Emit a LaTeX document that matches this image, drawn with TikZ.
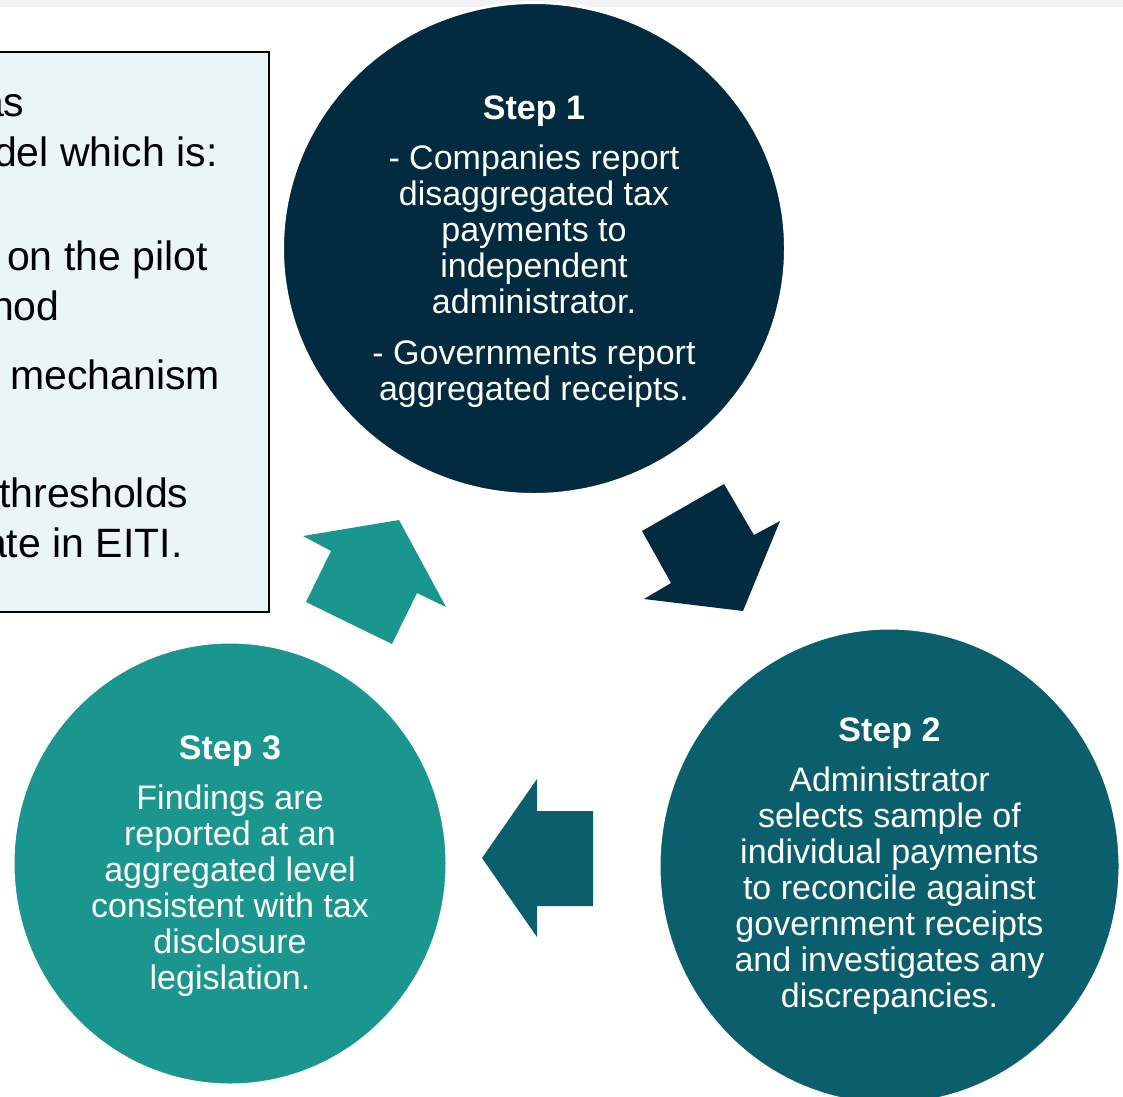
\documentclass[tikz,border=0pt]{standalone}
\usepackage{fontspec}
\setmainfont{Liberation Sans}
\usetikzlibrary{calc,shapes.geometric}
\definecolor{navy}{HTML}{022B3F}
\definecolor{petrol}{HTML}{0B5F6C}
\definecolor{seateal}{HTML}{1B968F}
\definecolor{notefill}{HTML}{EAF5F8}
\definecolor{barfill}{HTML}{F2F2F2}
\tikzset{
  stepdisc/.style={ellipse,draw=white,line width=3pt,inner sep=0pt},
  steptext/.style={text=white,align=center,anchor=base,inner sep=0pt,
    font=\fontsize{34}{36}\selectfont},
  notetext/.style={anchor=base west,inner sep=0pt,
    font=\fontsize{41}{50}\selectfont}
}

\begin{document}
\begin{tikzpicture}[x=1pt,y=-1pt]
    \useasboundingbox (0,0) rectangle (1123,1096);
    \clip (0,0) rectangle (1123,1096); % Cuts the note on the left...
    \fill[barfill] (0,0) rectangle (1123,7);
    % note box, running off the page
    \draw[fill=notefill,line width=1.2pt] (-10,52) rectangle (269,612);
    \foreach \x/\y/\t [count=\i] in {-19/116/as, -6/166/del which is:,
      7/270/on the pilot, -9/320/hod, 10/389/mechanism,
      -1/507/thresholds, -16/557/ate in EITI.}{
      \node[notetext] (note\i) at (\x,\y) {\t};
    }
    % the three steps (base = last line)
    \node[stepdisc,fill=navy,minimum width=503,minimum height=492] (step1) at (534,248.5) {};
    \node[stepdisc,fill=petrol,minimum width=461,minimum height=476] (step2) at (889.5,866) {};
    \node[stepdisc,fill=seateal,minimum width=434,minimum height=443] (step3) at (230,863.5) {};
    \node[steptext] (step1txt) at (534,400) {\textbf{Step 1}\\[14pt]
      - Companies report\\disaggregated tax\\payments to\\independent\\administrator.\\[15pt]
      - Governments report\\aggregated receipts.};
    \node[steptext] (step2txt) at (889.5,1007) {\textbf{Step 2}\\[14pt]
      Administrator\\selects sample of\\individual payments\\to reconcile against\\government receipts\\and investigates any\\discrepancies.};
    \node[steptext] (step3txt) at (230,989) {\textbf{Step 3}\\[14pt]
      Findings are\\reported at an\\aggregated level\\consistent with tax\\disclosure\\legislation.};
    % block arrows between the steps
    \fill[navy] (642,531) -- (724,484) -- (754,535) -- (780,521) -- (743,611)
      -- (644,599) -- (671,583) -- cycle;
    \fill[petrol] (482,858) -- (537,779) -- (537,811) -- (593,811) -- (593,906)
      -- (537,906) -- (537,937) -- cycle;
    \fill[seateal] (303,536) -- (399,520) -- (446,607) -- (417,593) -- (392,644)
      -- (306,602) -- (331,551) -- cycle;
\end{tikzpicture}
\end{document}
